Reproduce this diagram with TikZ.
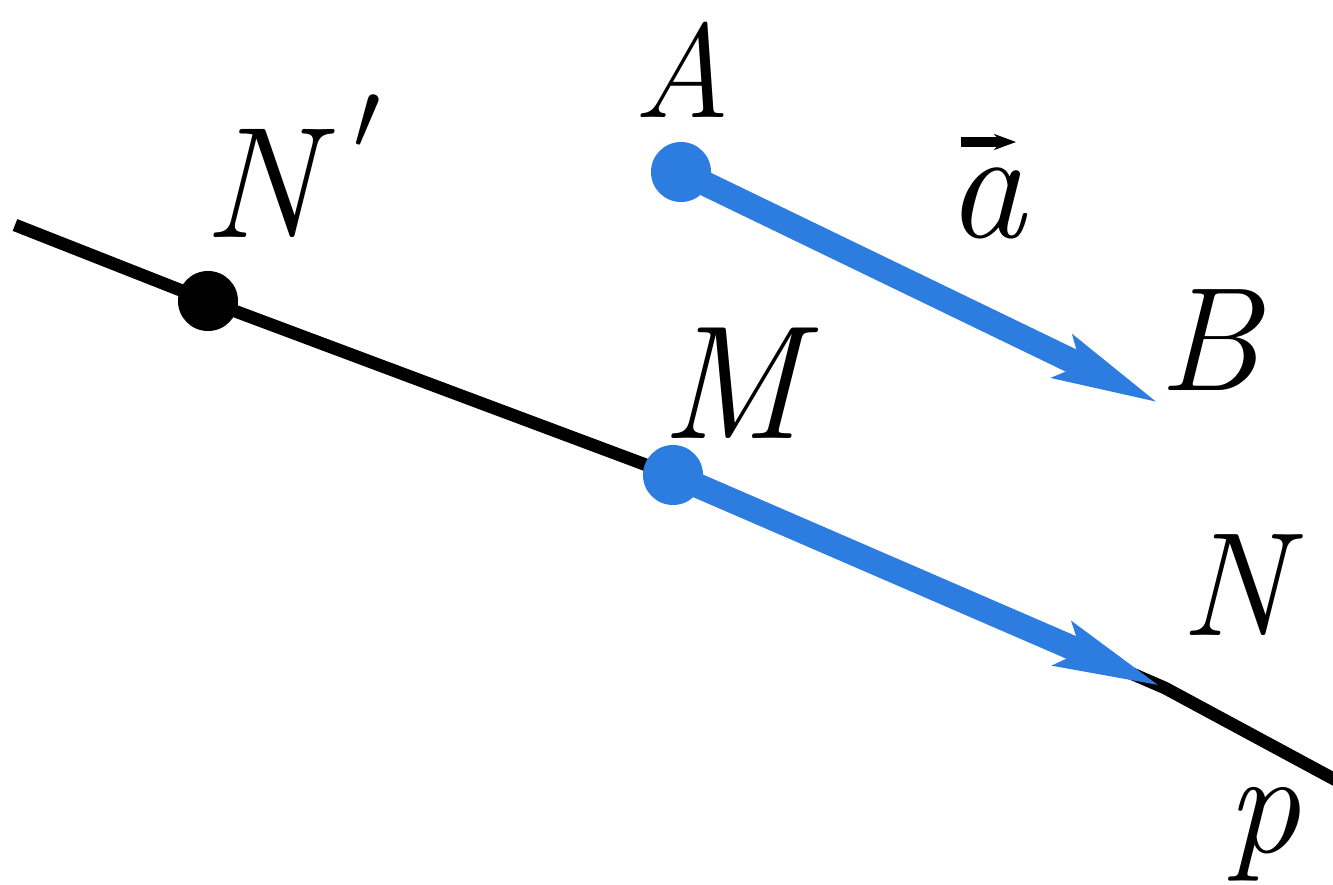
\documentclass[tikz,border=0pt]{standalone}
\usetikzlibrary{arrows.meta}
\definecolor{vecblue}{RGB}{45,125,225}
\begin{document}
\begin{tikzpicture}[x=0.01cm,y=-0.01cm,
  lbl/.style={inner sep=0pt, font=\itshape},
  bluedot/.style={circle, fill=vecblue, minimum size=0.6cm, inner sep=0pt},
  blackdot/.style={circle, fill=black, minimum size=0.6cm, inner sep=0pt},
  vecarrow/.style={draw=vecblue, line width=7pt, -{Stealth[length=1.05cm,width=0.42cm,inset=0.15cm]}},
  linep/.style={draw=black, line width=3.6pt}]
\useasboundingbox (0,0) rectangle (1333,885);
% points
\coordinate (p0) at (15,225);
\coordinate (p1) at (1345,785);
\node[blackdot] (Np) at (208,301) {};
\coordinate (Bt) at (1163,405);
\coordinate (Nt) at (1165,688);
% line p
\draw[linep] (p0) -- (Np.center) -- (673,475) -- (Nt) -- (p1);
% dots and vectors
\node[bluedot] (M) at (673,475) {};
\node[bluedot] (A) at (681,172) {};
\draw[vecarrow] (A.center) -- (Bt);
\draw[vecarrow] (M.center) -- (Nt);
% labels
\node[lbl, anchor=base, font=\itshape\fontsize{38}{40}\selectfont] (tA) at (682,118) {A};
\node[lbl, anchor=base west, font=\itshape\fontsize{45}{48}\selectfont] (tNp) at (203,238) {N\kern0.22em\raisebox{0.56em}{\fontsize{24.88}{30}\selectfont\scalebox{1.12}{$\prime$}}};
\node[lbl, anchor=base, font=\itshape\fontsize{45}{48}\selectfont] (ta) at (986,238) {a};
\draw[line width=2.6pt, -{Stealth[length=0.22cm,width=0.16cm]}] ([shift={(-25,-96)}]ta.base) -- ([shift={(30,-96)}]ta.base);
\node[lbl, anchor=base west, font=\itshape\fontsize{42}{44}\selectfont] (tB) at (1158,390) {B};
\node[lbl, anchor=base west, font=\itshape\fontsize{46}{48}\selectfont] (tM) at (660,438) {M};
\node[lbl, anchor=base west, font=\itshape\fontsize{42}{44}\selectfont] (tN) at (1180,635) {N};
\node[lbl, anchor=base west, font=\itshape\fontsize{42}{44}\selectfont] (tp) at (1226,852) {p};
\end{tikzpicture}
\end{document}
